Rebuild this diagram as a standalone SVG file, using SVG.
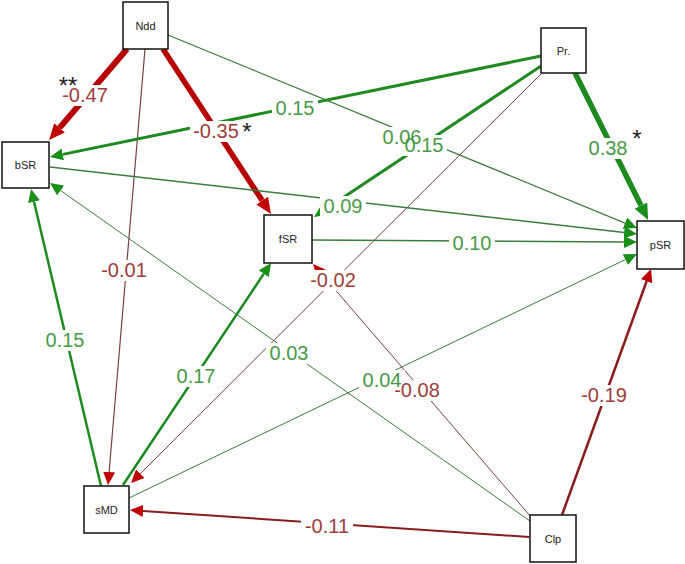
<svg xmlns="http://www.w3.org/2000/svg" width="685" height="564" viewBox="0 0 685 564">
<style>
.e{fill:none;stroke-linecap:butt}
.rk{stroke:#b80000}
.rm{stroke:#8a1c1c}
.rt{stroke:#7a4040}
.gk{stroke:#1f8a1f}
.gt{stroke:#3a7d3a}
.bg{fill:#fff}
.lb{font-family:"Liberation Sans",Arial,sans-serif;font-size:20px;text-anchor:middle}
.lr{fill:#a03c3c}
.lg{fill:#479a47}
.st{font-family:"Liberation Sans",Arial,sans-serif;font-size:24px;text-anchor:middle;fill:#222}
.box{fill:#fff;stroke:#111;stroke-width:1.5}
.nt{font-family:"Liberation Sans",Arial,sans-serif;font-size:11px;text-anchor:middle;fill:#222}
</style>
<defs>
<marker id="aRb" markerUnits="userSpaceOnUse" markerWidth="16" markerHeight="14" refX="0" refY="7" orient="auto"><path d="M0,0 L16,7 L0,14 z" fill="#c00000"/></marker>
<marker id="aRs" markerUnits="userSpaceOnUse" markerWidth="13" markerHeight="12" refX="0" refY="6" orient="auto"><path d="M0,0 L13,6 L0,12 z" fill="#c00000"/></marker>
<marker id="aGb" markerUnits="userSpaceOnUse" markerWidth="16" markerHeight="14" refX="0" refY="7" orient="auto"><path d="M0,0 L16,7 L0,14 z" fill="#1a8f1a"/></marker>
<marker id="aGs" markerUnits="userSpaceOnUse" markerWidth="13" markerHeight="12" refX="0" refY="6" orient="auto"><path d="M0,0 L13,6 L0,12 z" fill="#1a8f1a"/></marker>
</defs>
<rect width="685" height="564" fill="#fff"/>
<g id="connectors">
<path class="e rk" stroke-width="6" marker-end="url(#aRb)" d="M127,49 L59.5,127.9"/>
<path class="e rk" stroke-width="5.5" marker-end="url(#aRb)" d="M163,49 L262.2,200.6"/>
<path class="e rt" stroke-width="1.2" marker-end="url(#aRs)" d="M145,49 L109.1,472"/>
<path class="e gt" stroke-width="1.2" marker-end="url(#aGs)" d="M168,35 L625,223.1"/>
<path class="e gk" stroke-width="3" marker-end="url(#aGs)" d="M541,56 L62.7,154.4"/>
<path class="e gk" stroke-width="3" marker-end="url(#aGs)" d="M541,66 L324.8,209.8"/>
<path class="e gk" stroke-width="5.5" marker-end="url(#aGb)" d="M575,73 L641,205.6"/>
<path class="e rt" stroke-width="1" marker-end="url(#aRs)" d="M541,74 L140.2,473.8"/>
<path class="e gt" stroke-width="1.5" marker-end="url(#aGs)" d="M50,167 L624.1,232.5"/>
<path class="e gt" stroke-width="1.7" marker-end="url(#aGs)" d="M312,240 L624,242"/>
<path class="e gt" stroke-width="1" marker-end="url(#aGs)" d="M129,498 L625.3,259.6"/>
<path class="e gt" stroke-width="1" marker-end="url(#aGs)" d="M530,521 L60.6,190.5"/>
<path class="e rt" stroke-width="1" marker-end="url(#aRs)" d="M531,517 L321.5,273.8"/>
<path class="e rm" stroke-width="2.5" marker-end="url(#aRs)" d="M562,515 L646.6,281.2"/>
<path class="e rm" stroke-width="2" marker-end="url(#aRs)" d="M529,537 L143,510.9"/>
<path class="e gk" stroke-width="2.5" marker-end="url(#aGs)" d="M101,486 L34,201.7"/>
<path class="e gk" stroke-width="2.5" marker-end="url(#aGs)" d="M123,485 L263.8,273.8"/>
</g>
<g id="edge-label-bg">
<rect class="bg" x="59" y="85" width="52" height="21"/>
<rect class="bg" x="190" y="121" width="52" height="21"/>
<rect class="bg" x="272" y="98" width="46" height="21"/>
<rect class="bg" x="379" y="127" width="46" height="21"/>
<rect class="bg" x="401" y="135" width="46" height="21"/>
<rect class="bg" x="585" y="138" width="46" height="21"/>
<rect class="bg" x="320" y="196" width="46" height="21"/>
<rect class="bg" x="449" y="233" width="46" height="21"/>
<rect class="bg" x="307" y="270" width="52" height="21"/>
<rect class="bg" x="266" y="343" width="46" height="21"/>
<rect class="bg" x="359" y="370" width="46" height="21"/>
<rect class="bg" x="391" y="380" width="52" height="21"/>
<rect class="bg" x="578" y="385" width="52" height="21"/>
<rect class="bg" x="301" y="516" width="52" height="21"/>
<rect class="bg" x="42" y="330" width="46" height="21"/>
<rect class="bg" x="98" y="260" width="52" height="21"/>
<rect class="bg" x="173" y="366" width="46" height="21"/>
</g>
<g id="edge-labels">
<text class="lb lr" x="85" y="102">-0.47</text>
<text class="st" x="68" y="94">**</text>
<text class="lb lr" x="216" y="138">-0.35</text>
<text class="st" x="247" y="140">*</text>
<text class="lb lg" x="295" y="115">0.15</text>
<text class="lb lg" x="402" y="144">0.06</text>
<text class="lb lg" x="424" y="152">0.15</text>
<text class="lb lg" x="608" y="155">0.38</text>
<text class="st" x="637" y="147">*</text>
<text class="lb lg" x="343" y="213">0.09</text>
<text class="lb lg" x="472" y="250">0.10</text>
<text class="lb lr" x="333" y="287">-0.02</text>
<text class="lb lg" x="289" y="360">0.03</text>
<text class="lb lg" x="382" y="387">0.04</text>
<text class="lb lr" x="417" y="397">-0.08</text>
<text class="lb lr" x="604" y="402">-0.19</text>
<text class="lb lr" x="327" y="533">-0.11</text>
<text class="lb lg" x="65" y="347">0.15</text>
<text class="lb lr" x="124" y="277">-0.01</text>
<text class="lb lg" x="196" y="383">0.17</text>
</g>
<g id="node-Ndd"><rect class="box" x="123" y="2" width="45" height="47"/><text class="nt" x="145.5" y="29.5">Ndd</text></g>
<g id="node-Pr"><rect class="box" x="541" y="28" width="45" height="45"/><text class="nt" x="563.5" y="54.5">Pr.</text></g>
<g id="node-bSR"><rect class="box" x="2" y="142" width="47" height="46"/><text class="nt" x="25.5" y="169">bSR</text></g>
<g id="node-fSR"><rect class="box" x="264" y="215" width="48" height="48"/><text class="nt" x="288" y="243">fSR</text></g>
<g id="node-pSR"><rect class="box" x="637" y="221" width="47" height="48"/><text class="nt" x="660.5" y="249">pSR</text></g>
<g id="node-sMD"><rect class="box" x="84" y="486" width="45" height="47"/><text class="nt" x="106.5" y="513.5">sMD</text></g>
<g id="node-Clp"><rect class="box" x="530" y="515" width="46" height="47"/><text class="nt" x="553" y="542.5">Clp</text></g>
</svg>
